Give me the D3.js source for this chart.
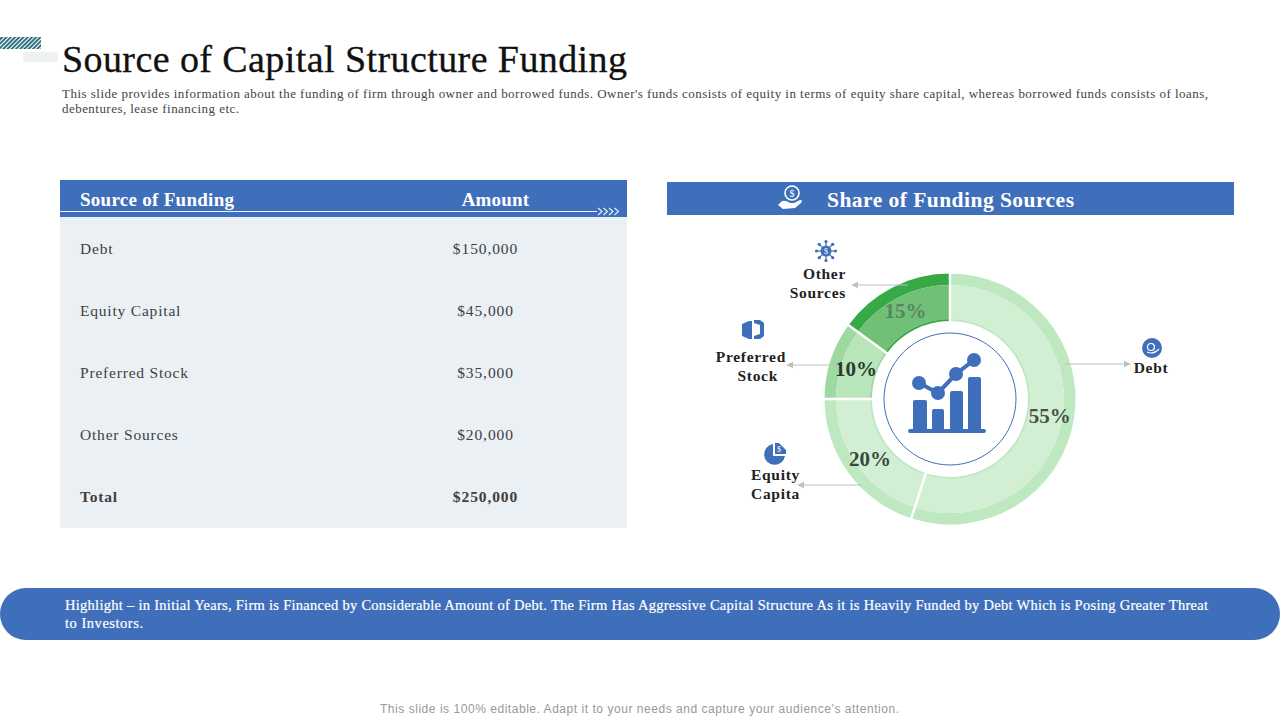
<!DOCTYPE html>
<html lang="en">
  <head>
    <meta charset='utf-8'>
    <script src="https://cdn.jsdelivr.net/npm/d3@7"></script>
    <title>Source of Capital Structure Funding</title>
    <style>
      body{margin:0;background:#fff;}
      svg{display:block;}
      text{font-family:"Liberation Serif",serif;}
    </style>
  </head>

  <body>
    <div id="mainDiv"></div>
    <script type="text/javascript">
      //Table data
      var sources=["Debt","Equity Capital","Preferred Stock","Other Sources","Total"];
      var amounts=[150000,45000,35000,20000,250000];
      //Donut data, as printed on the slide
      var shareNames=["Debt","Equity Capita","Preferred Stock","Other Sources"];
      var shares=[55,20,10,15];
      var shareInner=["#d2efd3","#d2efd3","#b9e5bb","#70c077"];
      var shareOuter=["#bde8c0","#bde8c0","#9dd9a1","#37aa45"];
      var shareText=["#4a4f4a","#3c463c","#2f3a2f","#5d8462"];

      var blue="#3f6fba";
      var grey="#bfbfbf";

      var svg=d3.select("#mainDiv")
        .append("svg")
        .attr("width",1280)
        .attr("height",720);

      var defs=svg.append("defs");
      defs.append("pattern")
        .attr("id","hatch")
        .attr("width",3)
        .attr("height",3)
        .attr("patternUnits","userSpaceOnUse")
        .attr("patternTransform","rotate(45)")
        .call(function(p){
          p.append("rect").attr("width",3).attr("height",3).attr("fill","#fff");
          p.append("rect").attr("width",1.8).attr("height",3).attr("fill","#1f6375");
        });
      defs.append("marker")
        .attr("id","arrow")
        .attr("viewBox","0 0 10 10")
        .attr("refX",9)
        .attr("refY",5)
        .attr("markerWidth",7)
        .attr("markerHeight",7)
        .attr("orient","auto")
        .attr("markerUnits","userSpaceOnUse")
        .append("path")
        .attr("d","M0,0L10,5L0,10Z")
        .attr("fill",grey);

      //small helper for a line of text
      function label(x,y,txt,size,color,opts){
        opts=opts||{};
        var t=svg.append("text")
          .attr("x",x)
          .attr("y",y)
          .attr("fill",color)
          .attr("font-size",size)
          .attr("font-weight",opts.bold?"bold":"normal")
          .attr("text-anchor",opts.anchor||"start")
          .text(txt);
        if(opts.len){
          t.attr("textLength",opts.len).attr("lengthAdjust","spacing");
        }
        if(opts.spacing){
          t.style("letter-spacing",opts.spacing+"px");
        }
        if(opts.heavy){
          t.attr("stroke",color).attr("stroke-width",opts.heavy);
        }
        return t;
      }

      //Corner decoration
      svg.append("rect").attr("x",0).attr("y",37).attr("width",41).attr("height",12).attr("fill","url(#hatch)");
      svg.append("rect").attr("x",23).attr("y",52).attr("width",35).attr("height",10).attr("fill","#f0f1f1");

      //Title
      label(62,72,"Source of Capital Structure Funding",38,"#111",{len:565,heavy:0.3});
      label(62,98,"This slide provides information about the funding of firm through owner and borrowed funds. Owner's funds consists of equity in terms of equity share capital, whereas borrowed funds consists of loans,",13,"#444",{len:1146});
      label(62,113,"debentures, lease financing etc.",13,"#444",{len:177});

      //Table
      var rowY=d3.scalePoint()
        .domain(sources)
        .range([249,497]);
      var money=d3.format("$,");

      svg.append("rect").attr("x",60).attr("y",217).attr("width",567).attr("height",311).attr("fill","#ebf0f5");
      svg.append("rect").attr("x",60).attr("y",180).attr("width",567).attr("height",37).attr("fill",blue);
      svg.append("line").attr("x1",60).attr("x2",597).attr("y1",211.5).attr("y2",211.5).attr("stroke","#e6f4f8").attr("stroke-width",1);
      //chevrons at the end of the header rule
      d3.range(4).forEach(function(i){
        svg.append("path")
          .attr("d","M"+(598+i*5.5)+",208L"+(602+i*5.5)+",211.5L"+(598+i*5.5)+",215")
          .attr("fill","none")
          .attr("stroke","#e6f4f8")
          .attr("stroke-width",1.1);
      });
      label(80,206,"Source of Funding",19,"#fff",{bold:true,len:154});
      label(495.5,206,"Amount",19,"#fff",{bold:true,anchor:"middle",spacing:0.2});

      sources.forEach(function(name,i){
        var isTotal=name==="Total";
        label(80,rowY(name)+5,name,15.5,"#404040",{bold:isTotal,spacing:0.8});
        label(485.5,rowY(name)+5,money(amounts[i]),15.5,"#404040",{bold:isTotal,anchor:"middle",spacing:0.9});
      });

      //Right header
      svg.append("rect").attr("x",667).attr("y",182).attr("width",567).attr("height",33).attr("fill",blue);
      label(827,207,"Share of Funding Sources",21.5,"#fff",{bold:true,len:247});
      var hand=svg.append("g").attr("transform","translate(790,198)");
      hand.append("circle").attr("cx",2).attr("cy",-5).attr("r",7).attr("fill","none").attr("stroke","#fff").attr("stroke-width",1.6);
      hand.append("text").attr("x",2).attr("y",-1.5).attr("text-anchor","middle").attr("font-size",10).attr("fill","#fff").text("$");
      hand.append("path").attr("d","M-12,7L-8,3Q-4,2 0,5L4,5L10,2Q13,2 11,5L5,10L-7,11Z").attr("fill","#fff");

      //Donut
      var cx=950, cy=399;
      var pie=d3.pie().sort(null).value(function(d){return d;});
      var slices=pie(shares);
      var chart=svg.append("g").attr("transform","translate("+cx+","+cy+")");

      var arcInner=d3.arc().innerRadius(80).outerRadius(114);
      var arcOuter=d3.arc().innerRadius(114).outerRadius(125.5);
      var arcEdge=d3.arc().innerRadius(78).outerRadius(80);
      var arcLabel=d3.arc().innerRadius(100).outerRadius(100);

      chart.selectAll(".outer").data(slices).enter().append("path")
        .attr("class","outer")
        .attr("d",arcOuter)
        .attr("fill",function(d,i){return shareOuter[i];});
      chart.selectAll(".inner").data(slices).enter().append("path")
        .attr("class","inner")
        .attr("d",arcInner)
        .attr("fill",function(d,i){return shareInner[i];});
      chart.selectAll(".edge").data(slices).enter().append("path")
        .attr("class","edge")
        .attr("d",arcEdge)
        .attr("fill",function(d,i){return shareOuter[i];});
      //white gaps between the slices
      chart.selectAll(".gap").data(slices).enter().append("line")
        .attr("class","gap")
        .attr("x1",function(d){return 77*Math.sin(d.startAngle);})
        .attr("y1",function(d){return -77*Math.cos(d.startAngle);})
        .attr("x2",function(d){return 127*Math.sin(d.startAngle);})
        .attr("y2",function(d){return -127*Math.cos(d.startAngle);})
        .attr("stroke","#fff")
        .attr("stroke-width",2.5);

      chart.selectAll(".pct").data(slices).enter().append("text")
        .attr("class","pct")
        .attr("x",function(d){return arcLabel.centroid(d)[0]+1;})
        .attr("y",function(d){return arcLabel.centroid(d)[1]+8;})
        .attr("text-anchor","middle")
        .attr("font-size",21)
        .attr("font-weight","bold")
        .attr("fill",function(d,i){return shareText[i];})
        .text(function(d){return d.data+"%";});

      //Center icon
      chart.append("circle").attr("r",66).attr("fill","#fff").attr("stroke",blue).attr("stroke-width",1);
      var icon=svg.append("g").attr("fill",blue);
      [[913,400,14],[932,409,12],[950,391,13],[968,377,13]].forEach(function(b){
        icon.append("rect").attr("x",b[0]).attr("y",b[1]).attr("width",b[2]).attr("height",431-b[1]).attr("rx",2);
      });
      icon.append("rect").attr("x",908).attr("y",429).attr("width",78).attr("height",4).attr("rx",2);
      var iconPts=[[919,383],[938,393],[956,374],[974,360]];
      icon.append("path")
        .attr("d",d3.line()(iconPts))
        .attr("fill","none")
        .attr("stroke",blue)
        .attr("stroke-width",4);
      iconPts.forEach(function(p){
        icon.append("circle").attr("cx",p[0]).attr("cy",p[1]).attr("r",7);
      });

      //Callout arrows
      [[1065,364,1130,364],[908,285,852,285],[838,365,787,365],[862,485,798,485]].forEach(function(a){
        svg.append("line")
          .attr("x1",a[0]).attr("y1",a[1]).attr("x2",a[2]).attr("y2",a[3])
          .attr("stroke",grey)
          .attr("stroke-width",1.2)
          .attr("marker-end","url(#arrow)");
      });

      //Callout names
      var nameOpts={bold:true,spacing:0.7};
      label(1151,373,shareNames[0],15.5,"#222",{bold:true,anchor:"middle",spacing:0.7});
      label(775.5,480,"Equity",15.5,"#222",{bold:true,anchor:"middle",spacing:0.7});
      label(775.5,499,"Capita",15.5,"#222",{bold:true,anchor:"middle",spacing:0.7});
      label(786,362,"Preferred",15.5,"#222",{bold:true,anchor:"end",spacing:0.7});
      label(778,381,"Stock",15.5,"#222",{bold:true,anchor:"end",spacing:0.7});
      label(846,279,"Other",15.5,"#222",{bold:true,anchor:"end",spacing:0.7});
      label(846,298,"Sources",15.5,"#222",{bold:true,anchor:"end",spacing:0.7});

      //Other Sources icon
      var virus=svg.append("g").attr("transform","translate(826,251)");
      d3.range(8).forEach(function(i){
        var a=i*Math.PI/4;
        virus.append("line").attr("x2",9*Math.cos(a)).attr("y2",9*Math.sin(a)).attr("stroke",blue).attr("stroke-width",1.2);
        virus.append("circle").attr("cx",9.5*Math.cos(a)).attr("cy",9.5*Math.sin(a)).attr("r",1.6).attr("fill",blue);
      });
      virus.append("circle").attr("r",5.5).attr("fill",blue);
      virus.append("text").attr("y",3).attr("text-anchor","middle").attr("font-size",8).attr("fill","#fff").text("$");

      //Preferred Stock icon
      svg.append("path")
        .attr("d","M742,324L749,321L752,321L752,339L749,339L742,336ZM754,320L760,320L764,323L764,336L760,339L754,339L754,336L760,334L760,325L754,323Z")
        .attr("fill",blue);

      //Equity icon
      var pieIcon=svg.append("g").attr("transform","translate(775,454)");
      pieIcon.append("path").attr("d","M-2,-10A10.5,10.5 0 1 0 10,2L-2,2Z").attr("fill",blue);
      pieIcon.append("path").attr("d","M0,-11L4,-11L11,-4L11,0L0,0Z").attr("fill",blue);
      pieIcon.append("text").attr("x",4).attr("y",-2).attr("text-anchor","middle").attr("font-size",8).attr("fill","#fff").text("$");

      //Debt icon
      var debtIcon=svg.append("g").attr("transform","translate(1152,348)");
      debtIcon.append("circle").attr("r",10).attr("fill",blue);
      debtIcon.append("circle").attr("cx",-1).attr("cy",-1).attr("r",3.5).attr("fill","none").attr("stroke","#fff").attr("stroke-width",1.2);
      debtIcon.append("path").attr("d","M-5,4Q1,7 7,1").attr("fill","none").attr("stroke","#fff").attr("stroke-width",1.2);

      //Highlight band
      svg.append("rect").attr("x",0).attr("y",588).attr("width",1280).attr("height",52).attr("rx",26).attr("fill",blue);
      label(65,610,"Highlight \u2013 in Initial Years, Firm is Financed by Considerable Amount of Debt. The Firm Has Aggressive Capital Structure As it is Heavily Funded by Debt Which is Posing Greater Threat",14.5,"#fff",{len:1143,heavy:0.2});
      label(65,628,"to Investors.",14.5,"#fff",{len:78,heavy:0.2});

      //Footer
      svg.append("text")
        .attr("x",380)
        .attr("y",713)
        .attr("fill","#999")
        .attr("font-size",12)
        .attr("textLength",519)
        .style("font-family","'Liberation Sans',sans-serif")
        .text("This slide is 100% editable. Adapt it to your needs and capture your audience's attention.");
    </script>
  </body>
</html>
